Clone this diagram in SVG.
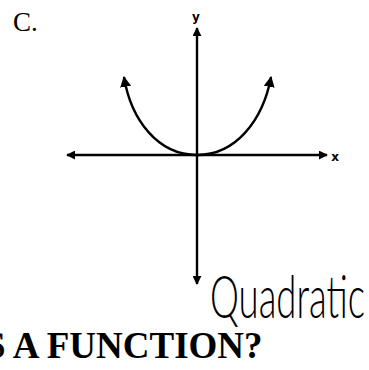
<svg xmlns="http://www.w3.org/2000/svg" width="369" height="370" viewBox="0 0 369 370">
<defs>
<marker id="ah" viewBox="0 0 10 10" refX="9" refY="5" markerWidth="9" markerHeight="9" markerUnits="userSpaceOnUse" orient="auto-start-reverse">
<path d="M0,0 L10,5 L0,10 z" fill="#000"/>
</marker>
<marker id="ah2" viewBox="0 0 10 10" refX="9" refY="5" markerWidth="11" markerHeight="11" markerUnits="userSpaceOnUse" orient="auto-start-reverse">
<path d="M0,0 L10,5 L0,10 z" fill="#000"/>
</marker>
<style>
.ax{stroke:#000;stroke-width:2.4;fill:none}
.lbl{font-family:"DejaVu Sans",sans-serif;font-weight:bold;font-size:12px;fill:#000}
</style>
</defs>
<rect width="369" height="370" fill="#fff"/>
<text x="13" y="31" font-family="Liberation Serif, serif" font-size="27" fill="#000">C.</text>
<g id="connectors">
<line class="ax" x1="197" y1="284" x2="197" y2="28" marker-start="url(#ah)" marker-end="url(#ah)"/>
<line class="ax" x1="67" y1="155" x2="327" y2="155" marker-start="url(#ah)" marker-end="url(#ah)"/>
<path class="ax" d="M124,77 C131,120 158,155 197,155 C236,155 263,120 271,77" marker-start="url(#ah2)" marker-end="url(#ah2)"/>
</g>
<text class="lbl" x="196" y="21" text-anchor="middle">y</text>
<text class="lbl" x="335" y="161" text-anchor="middle">x</text>
<text transform="translate(210,318) scale(0.62,1)" x="0" y="0" font-family="Lato, sans-serif" font-weight="300" font-size="60" textLength="250" lengthAdjust="spacingAndGlyphs" fill="#000">Quadratic</text>
<text x="-15" y="358" font-family="Liberation Serif, serif" font-weight="bold" font-size="37" fill="#000">S A FUNCTION?</text>
</svg>
